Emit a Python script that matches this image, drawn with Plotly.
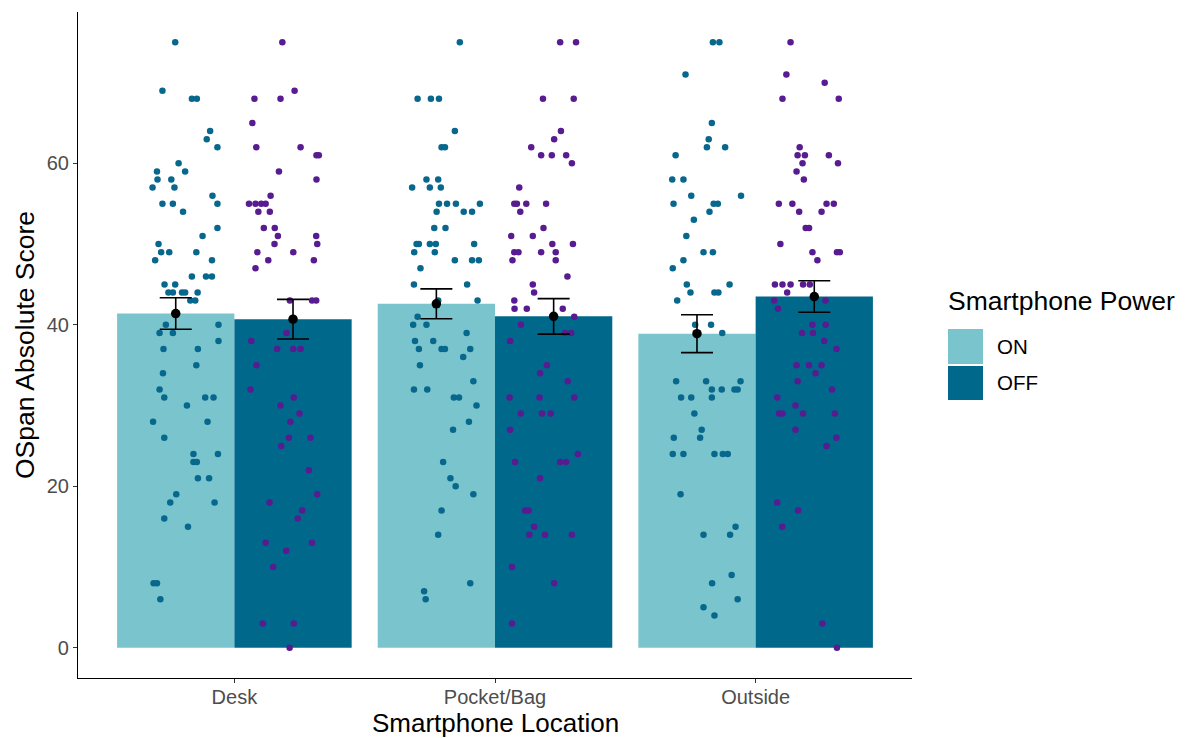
import plotly.graph_objects as go

# ---------------- data ----------------
locations = ["Desk", "Pocket/Bag", "Outside"]
power_levels = ["ON", "OFF"]

mean_on = [41.4, 42.6, 38.9]
mean_off = [40.7, 41.05, 43.5]
se_on = [1.95, 1.85, 2.35]
se_off = [2.45, 2.2, 1.95]

desk_on_scores = [75, 69, 68, 68, 64, 63, 62, 60, 59, 59, 58, 58, 57, 57, 56, 55, 55, 55, 54, 52,
                  51, 50, 49, 49, 49, 48, 48, 46, 46, 46, 45, 45, 44, 44, 44, 44, 44, 43, 43, 40,
                  40, 39, 39, 38, 37, 37, 35, 34, 32, 31, 31, 31, 30, 28, 28, 26, 24, 24, 23, 23,
                  21, 21, 19, 18, 18, 16, 15, 8, 8, 6]
desk_on_jitter = [-0.002, -0.051, 0.062, 0.081, 0.132, 0.119, 0.160, 0.011, -0.072, 0.036,
                  -0.070, -0.017, -0.089, -0.005, 0.141, -0.051, -0.011, 0.160, 0.028, 0.160,
                  0.103, -0.066, -0.056, -0.025, 0.079, -0.079, 0.139, 0.062, 0.116, 0.139,
                  -0.043, -0.002, -0.028, -0.011, 0.024, 0.036, 0.084, 0.056, 0.075, -0.038,
                  0.164, -0.062, -0.011, 0.164, -0.047, 0.085, 0.079, -0.049, -0.062, -0.044,
                  0.113, 0.145, 0.043, -0.087, 0.122, -0.044, 0.068, 0.162, 0.068, 0.081,
                  0.085, 0.128, 0.002, -0.021, 0.149, -0.044, 0.047, -0.085, -0.072, -0.059]

desk_off_scores = [75, 69, 68, 68, 65, 62, 62, 61, 61, 59, 58, 56, 55, 55, 55, 55, 54, 54, 52, 52,
                   51, 51, 50, 50, 49, 49, 48, 48, 47, 43, 43, 43, 39, 38, 37, 37, 37, 35, 32, 31,
                   30, 29, 28, 26, 26, 25, 22, 19, 18, 17, 16, 13, 13, 12, 10, 3, 3, 0]
desk_off_jitter = [-0.041, 0.006, -0.148, -0.048, -0.156, -0.141, 0.029, 0.090, 0.099, -0.054,
                   0.090, -0.086, -0.169, -0.144, -0.122, -0.105, -0.133, -0.089, -0.112, -0.070,
                   -0.058, 0.089, -0.071, 0.093, -0.137, 0.001, -0.095, 0.080, -0.144, -0.012,
                   0.073, 0.089, -0.025, -0.160, -0.061, 0.001, 0.029, -0.140, -0.163, 0.003,
                   -0.048, 0.025, -0.010, -0.016, 0.067, -0.045, 0.061, 0.093, -0.090, 0.035,
                   0.018, -0.105, 0.073, -0.026, -0.076, -0.116, 0.003, -0.013]

pocket_on_scores = [75, 68, 68, 68, 64, 62, 62, 58, 58, 57, 57, 57, 55, 55, 55, 55, 54, 54, 54, 52,
                    52, 50, 50, 50, 50, 50, 49, 49, 48, 48, 48, 47, 45, 45, 43, 43, 41, 40, 40, 39,
                    38, 38, 37, 37, 37, 37, 36, 35, 33, 32, 32, 31, 31, 30, 28, 27, 23, 21, 20, 19,
                    17, 14, 8, 7, 6]
pocket_on_jitter = [0.090, -0.072, -0.021, 0.010, 0.071, 0.020, 0.033, -0.038, 0.007, -0.093,
                    -0.025, 0.017, 0.010, 0.041, 0.075, 0.167, 0.001, 0.105, 0.137, -0.008,
                    0.035, -0.076, -0.067, -0.025, -0.002, 0.145, -0.085, -0.006, 0.071, 0.137,
                    0.163, -0.061, -0.086, 0.118, 0.007, 0.158, -0.072, -0.089, -0.038, 0.116,
                    -0.082, -0.012, -0.067, 0.020, 0.033, 0.130, 0.103, -0.063, 0.142, -0.086,
                    -0.035, 0.067, 0.087, 0.154, 0.125, 0.064, 0.026, 0.054, 0.074, 0.142,
                    0.020, 0.007, 0.130, -0.047, -0.041]

pocket_off_scores = [75, 75, 68, 68, 64, 63, 62, 61, 61, 61, 60, 57, 55, 55, 55, 55, 54, 52, 51, 51,
                     50, 50, 49, 49, 49, 49, 48, 48, 46, 45, 44, 43, 42, 42, 42, 41, 40, 39, 39, 38,
                     35, 34, 33, 31, 31, 31, 29, 29, 29, 27, 24, 23, 23, 23, 21, 17, 17, 15, 14, 14,
                     14, 10, 8, 3]
pocket_off_jitter = [0.025, 0.086, -0.041, 0.077, 0.028, 0.002, -0.086, -0.048, -0.007, 0.048,
                     0.070, -0.132, -0.151, -0.141, -0.105, -0.029, -0.128, -0.039, -0.163, -0.080,
                     -0.005, 0.074, -0.151, -0.135, -0.048, 0.008, -0.158, 0.008, 0.053, -0.080,
                     -0.075, -0.151, -0.150, -0.103, 0.035, 0.079, -0.126, 0.044, 0.067, -0.167,
                     -0.026, -0.052, 0.054, -0.169, -0.054, 0.079, -0.126, -0.045, -0.011, -0.167,
                     0.093, -0.148, 0.025, 0.048, -0.052, -0.109, -0.096, -0.075, -0.093, -0.033,
                     0.070, -0.160, 0.002, -0.160]

outside_on_scores = [75, 75, 71, 65, 63, 62, 62, 61, 58, 58, 56, 56, 55, 55, 55, 54, 53, 51, 49, 49,
                     48, 47, 45, 45, 44, 44, 44, 43, 40, 40, 39, 33, 33, 33, 32, 32, 32, 32, 31, 31,
                     31, 29, 27, 26, 26, 24, 24, 24, 24, 24, 19, 15, 14, 14, 9, 8, 6, 5, 4]
outside_on_jitter = [0.061, 0.086, -0.044, 0.057, 0.045, 0.038, 0.108, -0.082, -0.095, -0.052,
                     -0.022, 0.169, -0.090, 0.064, 0.080, 0.048, -0.012, -0.041, 0.025, 0.061,
                     -0.052, -0.093, -0.039, 0.125, -0.025, 0.067, 0.082, -0.076, -0.007, 0.054,
                     0.097, -0.080, 0.035, 0.167, 0.057, 0.095, 0.144, 0.156, -0.061, -0.022,
                     0.057, -0.010, 0.018, -0.089, 0.012, -0.093, -0.052, 0.067, 0.099, 0.118,
                     -0.063, 0.148, 0.025, 0.127, 0.133, 0.058, 0.156, 0.025, 0.067]

outside_off_scores = [75, 71, 70, 68, 68, 62, 61, 61, 61, 60, 60, 59, 58, 55, 55, 55, 55, 54, 54, 52,
                      52, 50, 49, 49, 49, 48, 45, 45, 45, 45, 45, 44, 43, 43, 42, 40, 40, 39, 39, 38,
                      37, 35, 35, 35, 34, 33, 32, 31, 30, 29, 29, 29, 29, 27, 26, 25, 18, 17, 15, 3, 0]
outside_off_jitter = [-0.091, -0.107, 0.040, -0.122, 0.094, -0.056, -0.064, -0.036, 0.056, -0.045,
                      0.091, -0.068, -0.040, -0.136, -0.084, 0.047, 0.075, -0.058, 0.028, -0.033,
                      -0.020, -0.130, -0.007, 0.087, 0.098, 0.012, -0.151, -0.122, -0.091, -0.043,
                      -0.017, -0.104, -0.154, 0.043, -0.139, -0.007, 0.044, -0.047, -0.005, 0.038,
                      0.085, -0.068, -0.020, 0.028, 0.005, -0.064, 0.068, -0.142, -0.072, -0.135,
                      -0.122, -0.043, 0.079, -0.072, 0.085, 0.047, -0.142, -0.062, -0.123, 0.031,
                      0.087]

scores_on = [desk_on_scores, pocket_on_scores, outside_on_scores]
jitter_on = [desk_on_jitter, pocket_on_jitter, outside_on_jitter]
scores_off = [desk_off_scores, pocket_off_scores, outside_off_scores]
jitter_off = [desk_off_jitter, pocket_off_jitter, outside_off_jitter]

# ---------------- styling ----------------
BAR_ON = "#7AC5CD"
BAR_OFF = "#00688B"
PT_ON = "#07678C"
PT_OFF = "#581B90"
FONT = "Liberation Sans, Arial, sans-serif"
DODGE = 0.225
BAR_W = 0.45

pos = [i + 1 for i in range(len(locations))]
x_on = [p - DODGE for p in pos]
x_off = [p + DODGE for p in pos]

fig = go.Figure()

fig.add_trace(go.Bar(x=x_on, y=mean_on, width=BAR_W, marker=dict(color=BAR_ON, line=dict(width=0)),
                     name="ON", showlegend=False, hoverinfo="skip"))
fig.add_trace(go.Bar(x=x_off, y=mean_off, width=BAR_W, marker=dict(color=BAR_OFF, line=dict(width=0)),
                     name="OFF", showlegend=False, hoverinfo="skip"))

for i in range(len(locations)):
    fig.add_trace(go.Scatter(
        x=[x_on[i] + j for j in jitter_on[i]], y=scores_on[i], mode="markers",
        marker=dict(color=PT_ON, size=6.5, line=dict(width=0)), showlegend=False))
    fig.add_trace(go.Scatter(
        x=[x_off[i] + j for j in jitter_off[i]], y=scores_off[i], mode="markers",
        marker=dict(color=PT_OFF, size=6.5, line=dict(width=0)), showlegend=False))

fig.add_trace(go.Scatter(
    x=x_on, y=mean_on, mode="markers", marker=dict(color="black", size=9.5),
    error_y=dict(type="data", array=se_on, color="black", thickness=1.6, width=16),
    showlegend=False))
fig.add_trace(go.Scatter(
    x=x_off, y=mean_off, mode="markers", marker=dict(color="black", size=9.5),
    error_y=dict(type="data", array=se_off, color="black", thickness=1.6, width=16),
    showlegend=False))

# legend drawn as keys in paper coordinates
L, R, T, B = 78, 278, 12, 60
W, H = 1190 - L - R, 738 - T - B

def px_x(v):
    return (v - L) / W

def px_y(v):
    return (738 - B - v) / H

shapes = [
    dict(type="rect", xref="paper", yref="paper", x0=px_x(948), x1=px_x(983),
         y0=px_y(364), y1=px_y(329), fillcolor=BAR_ON, line=dict(width=0)),
    dict(type="rect", xref="paper", yref="paper", x0=px_x(948), x1=px_x(983),
         y0=px_y(400), y1=px_y(366), fillcolor=BAR_OFF, line=dict(width=0)),
]
annotations = [
    dict(text="Smartphone Power", xref="paper", yref="paper", x=px_x(946), y=px_y(301),
         xanchor="left", yanchor="middle", showarrow=False, font=dict(size=26.5, color="black", family=FONT)),
    dict(text=power_levels[0], xref="paper", yref="paper", x=px_x(995), y=px_y(346),
         xanchor="left", yanchor="middle", showarrow=False, font=dict(size=20.5, color="black", family=FONT)),
    dict(text=power_levels[1], xref="paper", yref="paper", x=px_x(995), y=px_y(382),
         xanchor="left", yanchor="middle", showarrow=False, font=dict(size=20.5, color="black", family=FONT)),
    # x-axis title placed explicitly so it sits just below the tick labels
    dict(text="Smartphone Location", xref="paper", yref="paper", x=0.5, y=px_y(723),
         xanchor="center", yanchor="middle", showarrow=False, font=dict(size=26, color="black", family=FONT)),
]

fig.update_layout(
    width=1190, height=738,
    margin=dict(l=L, r=R, t=T, b=B),
    paper_bgcolor="white", plot_bgcolor="white",
    barmode="overlay",
    font=dict(family=FONT),
    shapes=shapes, annotations=annotations,
    showlegend=False,
    xaxis=dict(range=[0.4, 3.6], tickvals=pos, ticktext=locations, automargin=False,
               showline=True, linecolor="black", linewidth=1.1, mirror=False,
               ticks="outside", ticklen=4, tickcolor="#333333", tickwidth=1,
               ticklabelstandoff=-3,
               tickfont=dict(size=20, color="#4D4D4D", family=FONT),
               showgrid=False, zeroline=False),
    yaxis=dict(range=[-3.75, 78.75], tickvals=[0, 20, 40, 60], automargin=False,
               showline=True, linecolor="black", linewidth=1.1,
               ticks="outside", ticklen=4, tickcolor="#333333", tickwidth=1,
               tickfont=dict(size=20, color="#4D4D4D", family=FONT),
               showgrid=False, zeroline=False,
               title=dict(text="OSpan Absolute Score", font=dict(size=26.5, color="black", family=FONT), standoff=4)),
)

fig.write_html("out.html")
